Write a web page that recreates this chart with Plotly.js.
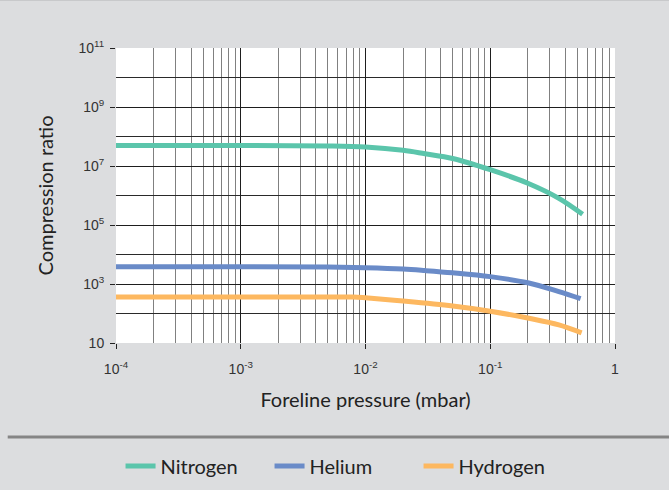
<!DOCTYPE html>
<html><head><meta charset="utf-8">
<script src="https://cdn.plot.ly/plotly-3.0.1.min.js"></script>
<style>html,body{margin:0;padding:0;background:#dcdddf;}#chart{width:669px;height:490px;}</style>
</head><body><div id="chart"></div>
<script>
const pressure = [1e-4, 1e-3, 5e-3, 1e-2, 2e-2, 3e-2, 5e-2, 0.1, 0.2, 0.355, 0.55];
const nitrogen = [5e7, 5e7, 4.8e7, 4.4e7, 3.4e7, 2.6e7, 1.8e7, 7.5e6, 2.6e6, 8e5, 2.3e5];
const heliumX = [1e-4, 1e-3, 5e-3, 1e-2, 2e-2, 3e-2, 5e-2, 0.1, 0.2, 0.355, 0.53];
const helium = [3880, 3880, 3750, 3550, 3200, 2850, 2400, 1780, 1100, 550, 317];
const hydrogenX = [1e-4, 1e-3, 5e-3, 8e-3, 1e-2, 2e-2, 5e-2, 0.1, 0.2, 0.355, 0.54];
const hydrogen = [360, 360, 360, 360, 340, 265, 180, 120, 70, 41, 22];
const seriesNames = ['Nitrogen', 'Helium', 'Hydrogen'];
const colors = ['#5BC5AB', '#6A8BC8', '#FDB860'];
const xTickVals = [1e-4, 1e-3, 1e-2, 1e-1, 1];
const xTickText = ['10<sup>-4</sup>', '10<sup>-3</sup>', '10<sup>-2</sup>', '10<sup>-1</sup>', '1'];
const yTickVals = [10, 1e3, 1e5, 1e7, 1e9, 1e11];
const yTickText = ['10', '10<sup>3</sup>', '10<sup>5</sup>', '10<sup>7</sup>', '10<sup>9</sup>', '10<sup>11</sup>'];
const yMinorVals = [100, 1e4, 1e6, 1e8, 1e10];

const xs = [pressure, heliumX, hydrogenX];
const ys = [nitrogen, helium, hydrogen];
const traces = seriesNames.map((n, i) => ({
  x: xs[i], y: ys[i], name: n, type: 'scatter', mode: 'lines',
  line: {color: colors[i], width: 5, shape: 'spline', smoothing: 1}
}));

const titleFont = 'Lato, sans-serif';
const layout = {
  width: 669, height: 490,
  paper_bgcolor: '#dcdddf', plot_bgcolor: '#ffffff',
  margin: {l: 116, r: 54, t: 48, b: 147, autoexpand: false},
  font: {family: 'Liberation Sans, Arial, sans-serif', color: '#333'},
  xaxis: {
    type: 'log', range: [-4, 0], automargin: false,
    tickmode: 'array', tickvals: xTickVals, ticktext: xTickText,
    ticks: 'outside', ticklen: 5, tickcolor: '#222', ticklabelstandoff: 8,
    showgrid: true, gridcolor: '#1e1e1e', gridwidth: 1,
    minor: {dtick: 'D1', showgrid: true, gridcolor: '#808080', gridwidth: 1, ticks: ''},
    zeroline: false, showline: false,
    tickfont: {size: 14, color: '#333'},
    title: {text: 'Foreline pressure (mbar)', font: {family: titleFont, size: 20, color: '#222'}, standoff: 17}
  },
  yaxis: {
    type: 'log', range: [1, 11], automargin: false,
    tickmode: 'array', tickvals: yTickVals, ticktext: yTickText,
    ticks: 'outside', ticklen: 5, tickcolor: '#222', ticklabelstandoff: 3,
    showgrid: true, gridcolor: '#1e1e1e', gridwidth: 1,
    minor: {tickmode: 'array', tickvals: yMinorVals, showgrid: true, gridcolor: '#2a2a2a', gridwidth: 1, ticks: ''},
    zeroline: false, showline: false,
    tickfont: {size: 14, color: '#333'},
    title: {text: 'Compression ratio', font: {family: titleFont, size: 20, color: '#222'}, standoff: 19}
  },
  showlegend: true,
  legend: {
    orientation: 'h', x: 0.457, xanchor: 'center', y: -0.417, yanchor: 'middle',
    font: {family: titleFont, size: 20, color: '#222'},
    bgcolor: 'rgba(0,0,0,0)', itemwidth: 30, entrywidth: 104
  },
  shapes: [
    {type: 'line', xref: 'paper', yref: 'paper', x0: -0.217, x1: 1.2, y0: -0.319, y1: -0.319,
     line: {color: '#858585', width: 3}},
    {type: 'line', xref: 'paper', yref: 'paper', x0: -0.3, x1: 1.2, y0: 1.161, y1: 1.161,
     line: {color: '#c8c9cb', width: 1}}
  ]
};
Plotly.newPlot('chart', traces, layout, {displayModeBar: false, staticPlot: true});
</script></body></html>
